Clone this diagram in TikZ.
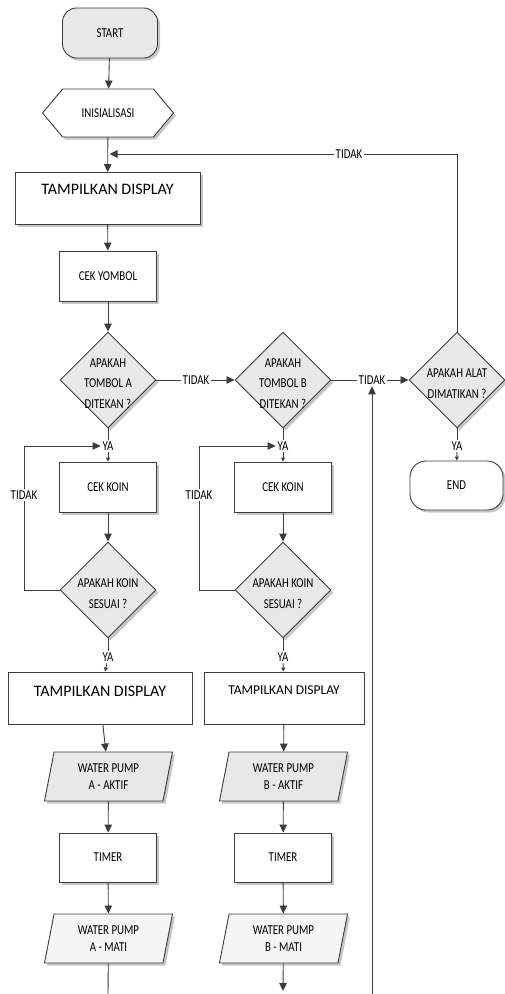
\documentclass[tikz,border=0pt]{standalone}
\usepackage{fontspec}
\setmainfont{Carlito}
\newfontfamily\narrowfont[FakeStretch=0.8]{Carlito}
\usetikzlibrary{shapes.geometric,shapes.symbols,shadows,arrows.meta}
\definecolor{linegray}{HTML}{3C3C3C}
\definecolor{boxgray}{HTML}{E8E8E8}
\definecolor{lightgray}{HTML}{F5F5F5}
\newcommand{\dlbl}[1]{\makebox[0pt]{\smash{\raisebox{-0.55em}{\renewcommand{\arraystretch}{1.2}\begin{tabular}{@{}c@{}}#1\end{tabular}}}}}
\begin{document}
\begin{tikzpicture}
            [x=1pt, y=-1pt, line width=0.9pt, draw=linegray,
            font=\narrowfont\fontsize{13.6}{17}\selectfont,
            shade/.style={drop shadow={shadow xshift=2.5pt, shadow yshift=-2.5pt, fill=black!45}},
            terminal/.style={rectangle, rounded corners=14pt, draw=linegray, fill=white, shade, minimum width=95pt, minimum height=50pt},
            prep/.style={signal, signal to=east and west, signal pointer angle=100, draw=linegray, fill=white, shade, minimum width=131pt, minimum height=48pt, inner sep=0pt},
            process/.style={rectangle, draw=linegray, fill=white, shade, minimum width=97pt, minimum height=50pt},
            screen/.style={rectangle, draw=linegray, fill=white, minimum height=52pt},
            decision/.style={diamond, draw=linegray, fill=boxgray, shade, minimum width=96pt, minimum height=96pt, inner sep=0pt},
            io/.style={trapezium, trapezium left angle=71, trapezium right angle=109, trapezium stretches body, draw=linegray, shade, minimum width=128pt, minimum height=49pt, align=center, inner sep=1pt},
            lbl/.style={inner sep=1.5pt},
            flow/.style={linegray, -{Triangle[length=8pt,width=7.5pt]}},
            tip/.style={linegray, -{Triangle[length=4pt,width=4pt]}},
            plain/.style={linegray}]

            \useasboundingbox (0,0) rectangle (505,994);

            % main column
            \node[terminal, fill=boxgray] (start) at (110,33) {START};
            \node[prep] (init) at (108,113) {INISIALISASI};
            \node[screen, shade, minimum width=185pt, text depth=18pt, font=\fontsize{16}{18}\selectfont] (disp) at (107.5,198.5) {TAMPILKAN DISPLAY};
            \node[process] (yombol) at (108,276) {CEK YOMBOL};
            \node[decision] (tombolA) at (108,380) {\dlbl{APAKAH\\TOMBOL A\\DITEKAN ?}};
            \node[decision] (tombolB) at (283,380) {\dlbl{APAKAH\\TOMBOL B\\DITEKAN ?}};
            \node[decision] (mati) at (457,380) {\dlbl{APAKAH ALAT\\DIMATIKAN ?}};
            \node[terminal, rounded corners=16pt, minimum width=93pt, minimum height=49pt] (end) at (456.5,485.5) {END};

            % branch A
            \node[process] (koinA) at (108,487) {CEK KOIN};
            \node[decision] (sesuaiA) at (108,590) {\dlbl{APAKAH KOIN\\SESUAI ?}};
            \node[screen, minimum width=184pt, text depth=14pt, font=\fontsize{16}{18}\selectfont] (dispA) at (100,698) {TAMPILKAN DISPLAY};
            \node[io, fill=boxgray] (aktifA) at (108.5,776.5) {WATER PUMP\\A - AKTIF};
            \node[process, minimum height=49pt] (timerA) at (108,857.5) {TIMER};
            \node[io, fill=lightgray] (offA) at (108.5,938.5) {WATER PUMP\\A - MATI};

            % branch B
            \node[process] (koinB) at (283,487) {CEK KOIN};
            \node[decision] (sesuaiB) at (283,590) {\dlbl{APAKAH KOIN\\SESUAI ?}};
            \node[screen, minimum width=160pt, text depth=16pt, font=\fontsize{13.5}{16}\selectfont] (dispB) at (284,698) {TAMPILKAN DISPLAY};
            \node[io, fill=boxgray] (aktifB) at (283.5,776.5) {WATER PUMP\\B - AKTIF};
            \node[process, minimum height=49pt] (timerB) at (283,857.5) {TIMER};
            \node[io, fill=lightgray] (offB) at (283.5,938.5) {WATER PUMP\\B - MATI};

            % labels on the lines
            \node[lbl] (noAB) at (196,380) {TIDAK};
            \node[lbl] (noBC) at (372,380) {TIDAK};
            \node[lbl] (noOff) at (349,154) {TIDAK};
            \node[lbl] (yesA) at (108,446) {YA};
            \node[lbl] (yesB) at (283,446) {YA};
            \node[lbl] (yesOff) at (457,446) {YA};
            \node[lbl] (noKoinA) at (24,495) {TIDAK};
            \node[lbl] (noKoinB) at (199,495) {TIDAK};
            \node[lbl] (yesKoinA) at (108,657) {YA};
            \node[lbl] (yesKoinB) at (283,657) {YA};

            \coordinate (back) at (109.5,154);
            \coordinate (endA) at (108,994);
            \coordinate (endB) at (283,991);
            \coordinate (upLine) at (372,994);

            % connectors
            \draw[flow] (start) -- (init);
            \draw[flow] (init) -- (disp);
            \draw[flow] (disp) -- (yombol);
            \draw[flow] (yombol) -- (tombolA);
            \draw[plain] (tombolA) -- (noAB);
            \draw[flow] (noAB) -- (tombolB);
            \draw[plain] (tombolB) -- (noBC);
            \draw[flow] (noBC) -- (mati);
            \draw[flow] (upLine) -- (noBC);
            \draw[plain] (mati.north) |- (noOff);
            \draw[flow] (noOff) -- (back);
            \draw[plain] (mati) -- (yesOff);
            \draw[tip] (yesOff) -- (end);

            \draw[plain] (tombolA) -- (yesA);
            \draw[tip] (yesA) -- (koinA);
            \draw[flow] (koinA) -- (sesuaiA);
            \draw[plain] (sesuaiA.west) -| (noKoinA);
            \draw[flow] (noKoinA) |- (yesA);
            \draw[plain] (sesuaiA) -- (yesKoinA);
            \draw[tip] (yesKoinA) -- (dispA);
            \draw[flow] (dispA) -- (aktifA);
            \draw[flow] (aktifA) -- (timerA);
            \draw[flow] (timerA) -- (offA);
            \draw[plain] (offA) -- (endA);

            \draw[plain] (tombolB) -- (yesB);
            \draw[tip] (yesB) -- (koinB);
            \draw[flow] (koinB) -- (sesuaiB);
            \draw[plain] (sesuaiB.west) -| (noKoinB);
            \draw[flow] (noKoinB) |- (yesB);
            \draw[plain] (sesuaiB) -- (yesKoinB);
            \draw[tip] (yesKoinB) -- (dispB);
            \draw[flow] (dispB) -- (aktifB);
            \draw[flow] (aktifB) -- (timerB);
            \draw[flow] (timerB) -- (offB);
            \draw[flow] (offB) -- (endB);

        \end{tikzpicture}
\end{document}
